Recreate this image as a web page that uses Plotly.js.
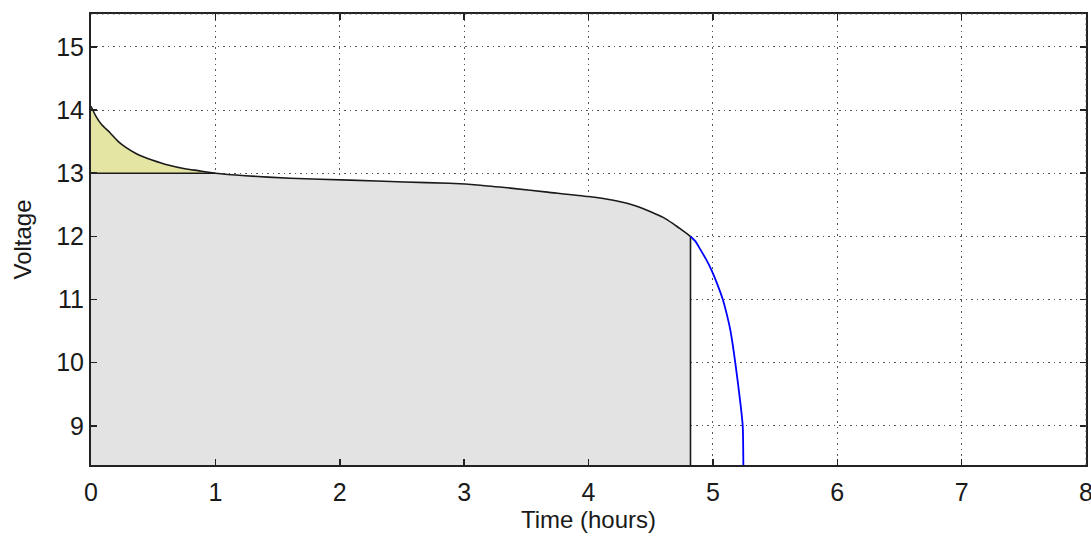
<!DOCTYPE html>
<html>
<head>
<meta charset="utf-8">
<script src="https://cdn.plot.ly/plotly-3.0.1.min.js"></script>
<style>
html,body{margin:0;padding:0;background:#fff;}
#chart{width:1091px;height:536px;}
</style>
</head>
<body>
<div id="chart"></div>
<script>
// Discharge curve (black), hours vs volts
const timeMain = [0, 0.04, 0.085, 0.153, 0.22, 0.286, 0.354, 0.42, 0.49, 0.62, 0.755, 0.86, 1.0, 1.24, 1.6, 2.08, 2.52, 2.88, 3.13, 3.39, 3.67, 4.0, 4.2, 4.4, 4.5, 4.6, 4.68, 4.73, 4.78, 4.82];
const voltMain = [14.06, 13.9, 13.77, 13.64, 13.5, 13.4, 13.32, 13.26, 13.21, 13.13, 13.07, 13.04, 13.0, 12.96, 12.92, 12.89, 12.86, 12.84, 12.81, 12.76, 12.7, 12.63, 12.57, 12.47, 12.39, 12.3, 12.2, 12.13, 12.06, 12.0];
// Tail after cut-off (blue)
const timeTail = [4.82, 4.86, 4.9, 4.95, 4.99, 5.04, 5.08, 5.11, 5.14, 5.16, 5.18, 5.2, 5.22, 5.24, 5.245];
const voltTail = [12.0, 11.92, 11.79, 11.62, 11.46, 11.22, 11.0, 10.78, 10.52, 10.28, 10.0, 9.7, 9.38, 9.0, 8.38];
// Levels
const nominalVolt = 13.0;
const cutoffTime = 4.82;
const xTicks = [0, 1, 2, 3, 4, 5, 6, 7, 8];
const yTicks = [9, 10, 11, 12, 13, 14, 15];
const xRange = [0, 8];
const yRange = [8.38, 15.52];

// Grey area: below min(curve, nominal) until cut-off
const greyX = [0].concat(timeMain, [cutoffTime]);
const greyY = [yRange[0]].concat(timeMain.map((t, i) => Math.min(voltMain[i], nominalVolt)), [yRange[0]]);

// Yellow area: between curve and nominal where curve > nominal
const yelIdx = timeMain.map((t, i) => i).filter(i => voltMain[i] >= nominalVolt);
const lastYel = timeMain[yelIdx[yelIdx.length - 1]];
const yelX = yelIdx.map(i => timeMain[i]).concat([lastYel, 0]);
const yelY = yelIdx.map(i => voltMain[i]).concat([nominalVolt, nominalVolt]);

const edge = {color: '#1a1a1a', width: 1.6};
const traces = [
  {x: greyX, y: greyY, mode: 'none', fill: 'toself', fillcolor: '#e3e3e3', hoverinfo: 'skip', showlegend: false},
  {x: yelX, y: yelY, mode: 'none', fill: 'toself', fillcolor: '#e5e5a3', hoverinfo: 'skip', showlegend: false},
  {x: [0, lastYel], y: [nominalVolt, nominalVolt], mode: 'lines', line: edge, showlegend: false},
  {x: [cutoffTime, cutoffTime], y: [voltMain[voltMain.length - 1], yRange[0]], mode: 'lines', line: edge, showlegend: false},
  {x: timeMain, y: voltMain, mode: 'lines', line: {color: '#1a1a1a', width: 1.6, shape: 'spline', smoothing: 0.6}, showlegend: false},
  {x: timeTail, y: voltTail, mode: 'lines', line: {color: '#0000ff', width: 1.8, shape: 'spline', smoothing: 0.6}, showlegend: false}
];

const fam = 'Liberation Sans, Arial, sans-serif';
const txt = '#1a1a1a';
const layout = {
  width: 1091, height: 536,
  margin: {l: 91, r: 5, t: 14, b: 71},
  paper_bgcolor: '#ffffff', plot_bgcolor: '#ffffff',
  showlegend: false,
  font: {family: fam, color: txt},
  xaxis: {
    range: xRange, tickvals: xTicks, ticktext: xTicks.map(String),
    showgrid: true, gridcolor: '#555555', griddash: '1.5px,4px', gridwidth: 1,
    zeroline: false, showline: true, linecolor: '#222222', linewidth: 2,
    ticks: 'inside', ticklen: 6, tickwidth: 1.5, tickcolor: '#222222', mirror: 'ticks',
    ticklabeloverflow: 'allow', ticklabelstandoff: 4,
    tickfont: {family: fam, size: 25, color: txt},
    title: {text: 'Time (hours)', font: {family: fam, size: 24, color: txt}, standoff: 6},
    layer: 'above traces', fixedrange: true
  },
  yaxis: {
    range: yRange, tickvals: yTicks, ticktext: yTicks.map(String),
    showgrid: true, gridcolor: '#555555', griddash: '1.5px,4px', gridwidth: 1,
    zeroline: false, showline: true, linecolor: '#222222', linewidth: 2,
    ticks: 'inside', ticklen: 6, tickwidth: 1.5, tickcolor: '#222222', mirror: 'ticks',
    tickfont: {family: fam, size: 25, color: txt},
    title: {text: 'Voltage', font: {family: fam, size: 24, color: txt}, standoff: 18},
    layer: 'above traces', fixedrange: true
  },
  shapes: [
    {type: 'line', xref: 'paper', yref: 'paper', x0: 0, x1: 1, y0: 1, y1: 1,
     line: {color: '#555555', width: 1, dash: '1.5px,4px'}},
    {type: 'line', xref: 'paper', yref: 'paper', x0: 1, x1: 1, y0: 0, y1: 1,
     line: {color: '#555555', width: 1, dash: '1.5px,4px'}}
  ]
};

Plotly.newPlot('chart', traces, layout, {displayModeBar: false, staticPlot: true});
</script>
</body>
</html>
